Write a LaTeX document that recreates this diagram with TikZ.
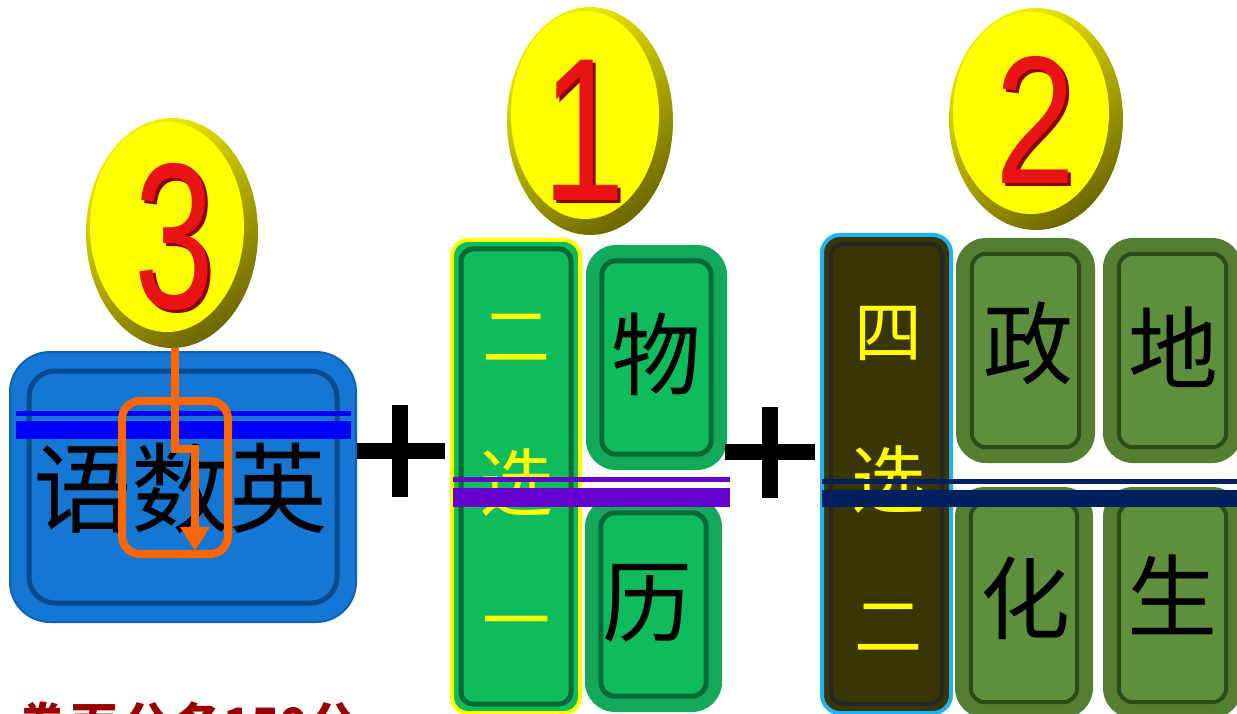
\documentclass[tikz,border=0pt]{standalone}
\usepackage{fontspec}
\setmainfont{Liberation Sans}
\newfontfamily\cjk{Noto Sans CJK SC}
\usetikzlibrary{shapes.geometric,arrows.meta}
\definecolor{bluefill}{HTML}{1577D3}
\definecolor{bluerim}{HTML}{0F62B5}
\definecolor{bluedark}{HTML}{0A4A8E}
\definecolor{greenfill}{HTML}{0EBC5D}
\definecolor{greenrim}{HTML}{14A95A}
\definecolor{greendark}{HTML}{0A6A35}
\definecolor{olivefill}{HTML}{5E8F3C}
\definecolor{oliverim}{HTML}{547F32}
\definecolor{olivedark}{HTML}{2D4A19}
\definecolor{darkcol}{HTML}{3A3505}
\definecolor{cyanrim}{HTML}{22B2F2}
\definecolor{ringdark}{HTML}{6E6900}
\definecolor{ringlight}{HTML}{F2EE00}
\definecolor{numred}{HTML}{E81414}
\definecolor{numdark}{HTML}{8C0000}
\definecolor{orng}{HTML}{FF6600}
\definecolor{purp}{HTML}{6600CC}
\definecolor{navy}{HTML}{002060}
\definecolor{pureblue}{HTML}{0000FF}
\definecolor{scorered}{HTML}{990000}
\definecolor{yel}{HTML}{FFFF00}
\newcommand\mktile[6]{\node[#2, minimum width={(#5-#3)*1pt}, minimum height={(#6-#4)*1pt}] (#1) at ({(#3+#5)/2},{(#4+#6)/2}) {};}
\newcommand\mkinner[3]{\draw[#3] ([shift={(#2,#2)}]#1.north west) rectangle ([shift={(-#2,-#2)}]#1.south east);}
\newcommand\bignum[3]{\fontsize{#1}{#1}\selectfont\scalebox{#2}[1]{#3}}
\begin{document}
\begin{tikzpicture}[x=1pt,y=-1pt,
  ring/.style={ellipse, inner sep=0pt, top color=ringlight, bottom color=ringdark, shading angle=35},
  face/.style={ellipse, inner sep=0pt, fill=yel},
  numtxt/.style={inner sep=0pt, text=numred},
  numshadow/.style={inner sep=0pt, text=numdark},
  bluebox/.style={rectangle, inner sep=0pt, fill=bluefill, draw=bluerim, line width=2pt, rounded corners=40pt},
  blueinner/.style={draw=bluedark, line width=5pt, rounded corners=26pt},
  greencol/.style={rectangle, inner sep=0pt, fill=greenfill, draw=yel, line width=4pt, rounded corners=16pt},
  greencolinner/.style={draw=greendark, line width=5pt, rounded corners=12pt},
  greentile/.style={rectangle, inner sep=0pt, fill=greenrim, rounded corners=30pt},
  greentileinner/.style={draw=greendark, fill=greenfill, line width=5pt, rounded corners=14pt},
  darkcolbox/.style={rectangle, inner sep=0pt, fill=darkcol, draw=cyanrim, line width=4pt, rounded corners=18pt},
  darkcolinner/.style={draw=black!85, line width=4pt, rounded corners=12pt},
  olivetile/.style={rectangle, inner sep=0pt, fill=oliverim, rounded corners=30pt},
  olivetileinner/.style={draw=olivedark, fill=olivefill, line width=4pt, rounded corners=14pt},
  charblack/.style={inner sep=0pt, text=black, font=\cjk\fontsize{90}{90}\selectfont},
  charyellow/.style={inner sep=0pt, text=yel, font=\cjk\fontsize{68}{68}\selectfont},
  plusbar/.style={line width=16pt, black},
]
\useasboundingbox (0,0) rectangle (1237,714);
\clip (0,0) rectangle (1237,714);
\fill[white] (0,0) rectangle (1237,714);

% ---- number ellipses
\node[ring, minimum width=172pt, minimum height=230pt] (r3) at (172,233) {};
\node[face, minimum width=154pt, minimum height=210pt] (e3) at (167,227) {};
\node[numshadow] (s3) at (177,240) {\bignum{208}{0.69}{3}};
\node[numtxt] (n3) at (174,237) {\bignum{208}{0.69}{3}};

\node[ring, minimum width=166pt, minimum height=228pt] (r1) at (590,121) {};
\node[face, minimum width=148pt, minimum height=208pt] (e1) at (585,115) {};
\node[numshadow] (s1) at (587,133) {\bignum{204}{0.73}{1}};
\node[numtxt] (n1) at (584,130) {\bignum{204}{0.73}{1}};

\node[ring, minimum width=174pt, minimum height=222pt] (r2) at (1036,119) {};
\node[face, minimum width=156pt, minimum height=202pt] (e2) at (1031,113) {};
\node[numshadow] (s2) at (1038,123) {\bignum{182}{0.79}{2}};
\node[numtxt] (n2) at (1035,120) {\bignum{182}{0.79}{2}};

% ---- blue box
\mktile{core}{bluebox}{10}{352}{356}{622}
\mkinner{core}{20}{blueinner}
\node[charblack, font=\cjk\fontsize{98}{98}\selectfont] (coretext) at (180,488) {语数英};

% ---- green column and tiles
\mktile{g1}{greencol}{452}{240}{580}{713}
\mkinner{g1}{11}{greencolinner}
\node[charyellow] (g1a) at (516,338) {二};
\node[charyellow, font=\cjk\fontsize{74}{74}\selectfont] (g1b) at (516,483) {选};
\node[charyellow] (g1c) at (516,631) {一};

\mktile{wu}{greentile}{586}{245}{727}{470}
\mkinner{wu}{16}{greentileinner}
\node[charblack] (wut) at (656,354) {物};
\mktile{li}{greentile}{585}{497}{722}{712}
\mkinner{li}{16}{greentileinner}
\node[charblack] (lit) at (647,603) {历};

% ---- dark column and olive tiles
\mktile{d1}{darkcolbox}{822}{235}{951}{713}
\mkinner{d1}{11}{darkcolinner}
\node[charyellow] (d1a) at (888,333) {四};
\node[charyellow, font=\cjk\fontsize{74}{74}\selectfont] (d1b) at (888,480) {选};
\node[charyellow] (d1c) at (888,628) {二};

\mktile{zheng}{olivetile}{956}{238}{1095}{463}
\mkinner{zheng}{16}{olivetileinner}
\node[charblack] (zt) at (1028,343) {政};
\mktile{di}{olivetile}{1103}{238}{1242}{463}
\mkinner{di}{16}{olivetileinner}
\node[charblack] (dt) at (1173,347) {地};
\mktile{hua}{olivetile}{955}{487}{1093}{718}
\mkinner{hua}{16}{olivetileinner}
\node[charblack] (ht) at (1025,598) {化};
\mktile{sheng}{olivetile}{1103}{487}{1242}{718}
\mkinner{sheng}{16}{olivetileinner}
\node[charblack] (st) at (1172,595) {生};

% ---- separator lines
\draw[pureblue, line width=5pt] (16,413) -- (351,413);
\draw[pureblue, line width=18pt] (16,430) -- (351,430);
\draw[purp, line width=5pt] (453,479) -- (730,479);
\draw[purp, line width=19pt] (453,497) -- (730,497);
\draw[navy, line width=5pt] (822,481) -- (1237,481);
\draw[navy, line width=17pt] (822,498) -- (1237,498);

% ---- orange frame and arrow
\node[draw=orng, line width=8pt, rounded corners=18pt, inner sep=0pt, minimum width=106pt, minimum height=153pt] (frame) at (175,477.5) {};
\coordinate (tip) at (195,551);
\draw[orng, line width=8pt, -{Triangle[width=28pt,length=24pt]}] ([xshift=3pt]r3.south) -- (175,449) -- (195,449) -- (tip);

% ---- plus signs
\draw[plusbar] (357,451) -- (445,451);
\draw[plusbar] (400,405) -- (400,497);
\draw[plusbar] (725,452) -- (815,452);
\draw[plusbar] (770,407) -- (770,498);

% ---- bottom text (cut by the page edge)
\node[anchor=base west, inner sep=0pt, text=scorered, font=\cjk\bfseries\fontsize{46}{46}\selectfont] (score) at (19,741) {卷\hspace{6pt}面\hspace{6pt}分\hspace{6pt}各\hspace{2pt}150\hspace{3pt}分};
\end{tikzpicture}
\end{document}
